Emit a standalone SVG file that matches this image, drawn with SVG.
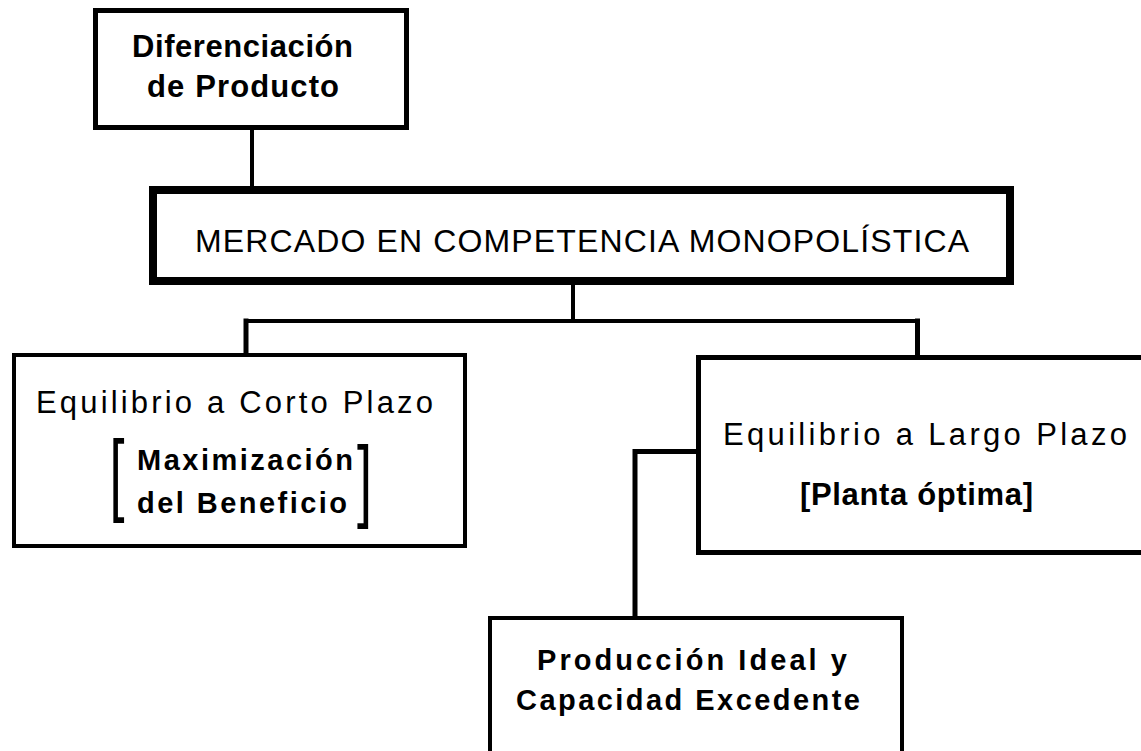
<svg xmlns="http://www.w3.org/2000/svg" width="1141" height="751" viewBox="0 0 1141 751">
<style>
  .box { fill: #ffffff; stroke: #000000; }
  .conn { fill: none; stroke: #000000; stroke-linecap: square; }
  text { font-family: "Liberation Sans", Arial, sans-serif; fill: #000000; font-size: 31px; }
  .b { font-weight: bold; }
  .t1 { font-size: 31px; }
  .main { font-size: 32px; }
  .sm { font-size: 29px; }
  .brk { font-size: 90px; font-weight: normal; }
</style>
<rect x="0" y="0" width="1141" height="751" fill="#ffffff"/>
<g id="connectors">
  <line class="conn" x1="252" y1="130" x2="252" y2="186" stroke-width="4"/>
  <line class="conn" x1="573" y1="285" x2="573" y2="321" stroke-width="4"/>
  <line class="conn" x1="246" y1="321" x2="917.5" y2="321" stroke-width="4"/>
  <line class="conn" x1="246" y1="321" x2="246" y2="353" stroke-width="5"/>
  <line class="conn" x1="917.5" y1="321" x2="917.5" y2="355" stroke-width="5"/>
  <polyline class="conn" points="696,451.5 635,451.5 635,616" stroke-width="5"/>
</g>
<g id="node-diferenciacion">
  <rect class="box" x="95.5" y="10.5" width="311" height="117" stroke-width="5"/>
  <text class="b t1" x="132" y="57" textLength="221" lengthAdjust="spacing">Diferenciación</text>
  <text class="b t1" x="147" y="97" textLength="192" lengthAdjust="spacing">de Producto</text>
</g>
<g id="node-mercado">
  <rect class="box" x="153" y="190" width="857" height="91" stroke-width="8"/>
  <text class="main" x="195" y="252" textLength="774" lengthAdjust="spacing">MERCADO EN COMPETENCIA MONOPOLÍSTICA</text>
</g>
<g id="node-corto-plazo">
  <rect class="box" x="14" y="355" width="451" height="191" stroke-width="4"/>
  <text x="36" y="413" textLength="397" lengthAdjust="spacing">Equilibrio a Corto Plazo</text>
  <text class="brk" transform="translate(109.5,504) scale(0.6,1)">[</text>
  <text class="b sm" x="137" y="470" textLength="216" lengthAdjust="spacing">Maximización</text>
  <text class="b sm" x="137" y="513" textLength="210" lengthAdjust="spacing">del Beneficio</text>
  <text class="brk" transform="translate(357,510) scale(0.6,1)">]</text>
</g>
<g id="node-largo-plazo">
  <rect class="box" x="698.5" y="357.5" width="460" height="195" stroke-width="5"/>
  <text x="723" y="445" textLength="404" lengthAdjust="spacing">Equilibrio a Largo Plazo</text>
  <text class="b" x="800" y="505" textLength="233" lengthAdjust="spacing">[Planta óptima]</text>
</g>
<g id="node-produccion">
  <rect class="box" x="490" y="618" width="412" height="200" stroke-width="4"/>
  <text class="b sm" x="537" y="670" textLength="310" lengthAdjust="spacing">Producción Ideal y</text>
  <text class="b sm" x="516" y="710" textLength="344" lengthAdjust="spacing">Capacidad Excedente</text>
</g>
</svg>
